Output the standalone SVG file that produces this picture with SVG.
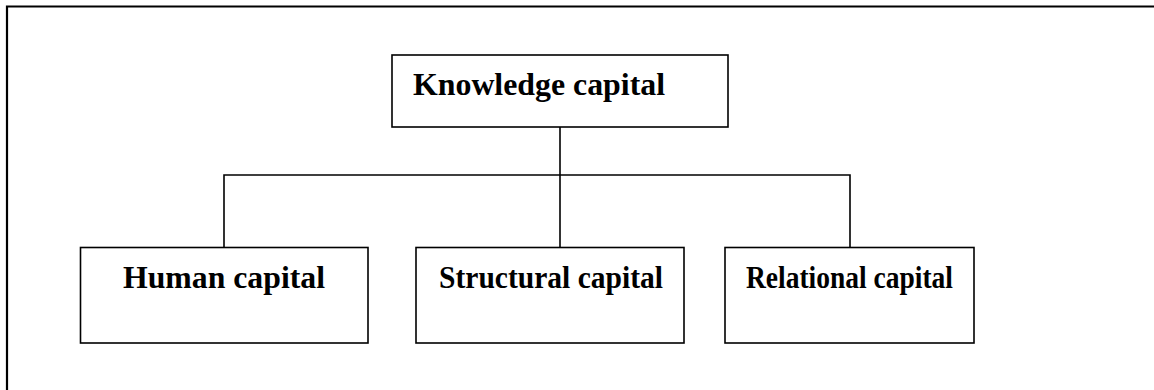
<svg xmlns="http://www.w3.org/2000/svg" width="1154" height="390" viewBox="0 0 1154 390">
<style>
.box{fill:#fff;stroke:#000;stroke-width:1.6}
.lbl{font-family:"Liberation Serif","Times New Roman",serif;font-weight:bold;font-size:32px;fill:#000}
.conn{fill:none;stroke:#000;stroke-width:1.6}
.frame{fill:none;stroke:#000;stroke-width:2.2}
</style>
<rect width="1154" height="390" fill="#fff"/>
<path class="frame" d="M7,390 V6.5 H1154"/>
<g id="connectors">
<path class="conn" d="M560,127 V247"/>
<path class="conn" d="M224,247 V175 H850 V247"/>
</g>
<g id="knowledge">
<rect class="box" x="392" y="55" width="336" height="72"/>
<text class="lbl" x="413" y="95" textLength="252" lengthAdjust="spacingAndGlyphs">Knowledge capital</text>
</g>
<g id="human">
<rect class="box" x="80.5" y="247.5" width="287.5" height="95.5"/>
<text class="lbl" x="123" y="288" textLength="202" lengthAdjust="spacingAndGlyphs">Human capital</text>
</g>
<g id="structural">
<rect class="box" x="416" y="247.5" width="268" height="95.5"/>
<text class="lbl" x="439" y="288" textLength="224" lengthAdjust="spacingAndGlyphs">Structural capital</text>
</g>
<g id="relational">
<rect class="box" x="725" y="247.5" width="249" height="95.5"/>
<text class="lbl" x="746" y="288" textLength="207" lengthAdjust="spacingAndGlyphs">Relational capital</text>
</g>
</svg>
